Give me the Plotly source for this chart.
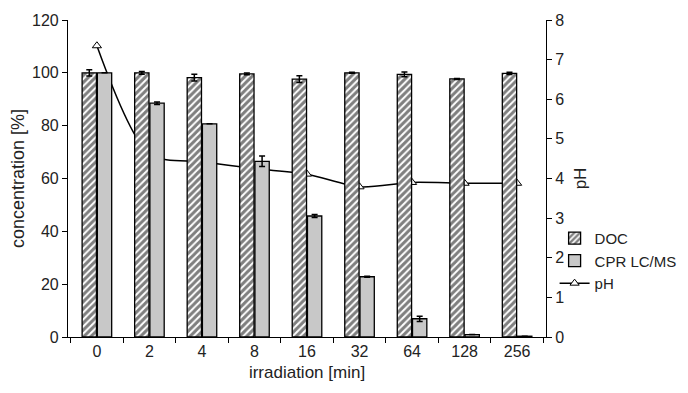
import plotly.graph_objects as go

categories = ["0", "2", "4", "8", "16", "32", "64", "128", "256"]
doc = [100, 100, 98.2, 99.6, 97.6, 100, 99.4, 97.7, 99.8]
doc_err = [1.2, 0.5, 1.3, 0.3, 1.3, 0.2, 0.9, 0.2, 0.4]
cpr = [100, 88.5, 80.7, 66.5, 45.8, 22.8, 6.9, 0.9, 0.3]
cpr_err = [0, 0.5, 0, 2.0, 0.6, 0.2, 1.0, 0, 0]
ph = [7.35, 4.62, 4.42, 4.25, 4.11, 3.79, 3.9, 3.88, 3.88]

FONT = "Liberation Sans, Arial, sans-serif"

fig = go.Figure()
fig.add_trace(go.Bar(
    x=categories, y=doc, name="DOC", yaxis="y2",
    marker=dict(color="white", line=dict(color="black", width=1.3),
                pattern=dict(shape="/", fgcolor="black", bgcolor="white", size=5, solidity=0.6)),
    error_y=dict(type="data", array=doc_err, color="black", thickness=1.5, width=3),
))
fig.add_trace(go.Bar(
    x=categories, y=cpr, name="CPR LC/MS", yaxis="y2",
    marker=dict(color="#c8c8c8", line=dict(color="black", width=1.3)),
    error_y=dict(type="data", array=cpr_err, color="black", thickness=1.5, width=3),
))
fig.add_trace(go.Scatter(
    x=categories, y=ph, name="pH", yaxis="y", mode="lines+markers",
    line=dict(color="black", width=1.5, shape="spline", smoothing=0.8),
    marker=dict(symbol="triangle-up", size=8, color="white", line=dict(color="black", width=1)),
))

fig.update_layout(
    width=680, height=385,
    margin=dict(l=60, r=142, t=12, b=56, autoexpand=False),
    paper_bgcolor="white", plot_bgcolor="white",
    font=dict(family=FONT, size=16, color="#222"),
    barmode="group", bargap=0.42, bargroupgap=0.06,
    showlegend=True,
    legend=dict(x=1.018, y=0.24, xanchor="left", yanchor="middle",
                font=dict(size=15), bgcolor="rgba(0,0,0,0)", tracegroupgap=0,
                itemwidth=30),
    xaxis=dict(type="category", showline=True, linecolor="black", linewidth=1.2,
               ticks="outside", ticklen=5, tickcolor="black", tickson="boundaries",
               automargin=False,
               title=dict(text="irradiation [min]", font=dict(size=17), standoff=6),
               tickfont=dict(size=16), showgrid=False, zeroline=False),
    yaxis=dict(side="right", range=[0, 8], dtick=1, showline=True, linecolor="black",
               linewidth=1.2, ticks="outside", ticklen=5, tickcolor="black",
               automargin=False,
               title=dict(text="pH", font=dict(size=17), standoff=10),
               tickfont=dict(size=16), showgrid=False, zeroline=False),
    yaxis2=dict(side="left", overlaying="y", range=[0, 120], dtick=20, showline=True,
                linecolor="black", linewidth=1.2, ticks="outside", ticklen=5,
                tickcolor="black", automargin=False,
                title=dict(text="concentration [%]", font=dict(size=18), standoff=10),
                tickfont=dict(size=16), showgrid=False, zeroline=False),
)

fig.write_html("out.html")
